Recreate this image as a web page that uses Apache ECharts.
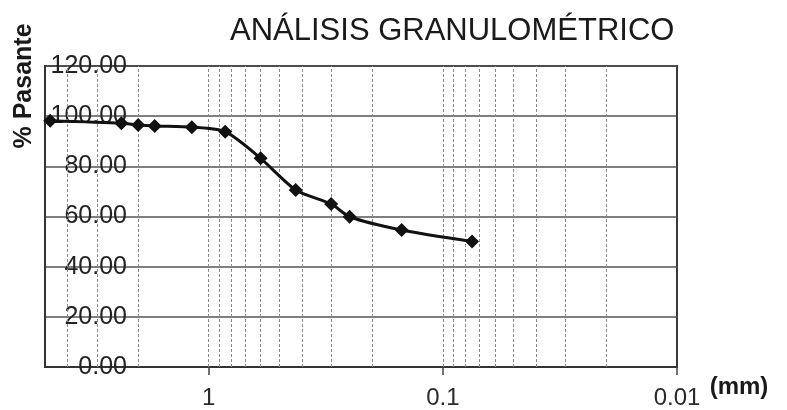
<!DOCTYPE html>
<html>
<head>
<meta charset="utf-8">
<script src="https://cdn.jsdelivr.net/npm/echarts@6/dist/echarts.min.js"></script>
<style>
  html, body { margin: 0; padding: 0; background: #fff; }
  #chart { width: 787px; height: 410px; }
</style>
</head>
<body>
<div id="chart"></div>
<script>
// Sieve opening (mm) and cumulative percent passing
const sieveSizes = [4.75, 2.36, 2.00, 1.70, 1.18, 0.85, 0.60, 0.425, 0.30, 0.25, 0.15, 0.075];
const percentPassing = [98.2, 97.2, 96.5, 96.1, 95.6, 93.8, 83.2, 70.6, 65.0, 59.9, 54.6, 50.0];

// Log-cycle grid positions (mm)
const logGridValues = [4, 3, 2, 1, 0.9, 0.8, 0.7, 0.6, 0.5, 0.4, 0.3, 0.2, 0.1,
  0.09, 0.08, 0.07, 0.06, 0.05, 0.04, 0.03, 0.02];
const xTickLabels = [1, 0.1, 0.01];

const chartTitle = 'ANÁLISIS GRANULOMÉTRICO';
const yTitle = '% Pasante';
const xUnit = '(mm)';

const FONT = '"Liberation Sans", Arial, sans-serif';
const chart = echarts.init(document.getElementById('chart'));

chart.setOption({
  backgroundColor: '#fff',
  animation: false,
  title: {
    text: chartTitle,
    left: 225,
    top: 11,
    textStyle: { fontFamily: FONT, fontSize: 31, fontWeight: 'normal', color: '#1a1a1a' }
  },
  grid: {
    left: 45, right: 110, top: 66, bottom: 43,
    show: true, borderColor: '#3a3a3a', borderWidth: 2, backgroundColor: 'transparent'
  },
  xAxis: {
    type: 'log',
    logBase: 10,
    min: 0.01,
    max: 5,
    inverse: true,
    interval: 1,
    axisLine: { show: true, lineStyle: { color: '#333', width: 2 } },
    axisTick: { show: true, length: 8, inside: false, lineStyle: { color: '#444', width: 1.5 } },
    splitLine: { show: false },
    axisLabel: {
      fontFamily: FONT, fontSize: 24, color: '#2a2a2a', margin: 19,
      showMaxLabel: false,
      formatter: function (v) {
        for (const t of xTickLabels) {
          if (Math.abs(v - t) / t < 1e-6) return String(t);
        }
        return '';
      }
    }
  },
  yAxis: {
    type: 'value',
    min: 0,
    max: 120,
    interval: 20,
    axisLine: { show: true, lineStyle: { color: '#333', width: 2 } },
    axisTick: { show: false },
    splitLine: { show: true, lineStyle: { color: '#555', width: 1.5 } },
    axisLabel: {
      fontFamily: FONT, fontSize: 25, color: '#222', margin: -82,
      formatter: function (v) { return v.toFixed(2); }
    }
  },
  graphic: [
    {
      type: 'text',
      x: 24, y: 86,
      rotation: Math.PI / 2,
      style: {
        text: yTitle, fontFamily: FONT, fontSize: 25, fontWeight: 'bold',
        fill: '#1a1a1a', align: 'center', verticalAlign: 'middle'
      }
    },
    {
      type: 'text',
      x: 739, y: 387,
      style: {
        text: xUnit, fontFamily: FONT, fontSize: 24, fontWeight: 'bold',
        fill: '#1a1a1a', align: 'center', verticalAlign: 'middle'
      }
    }
  ],
  series: [
    {
      type: 'line',
      data: sieveSizes.map((s, i) => [s, percentPassing[i]]),
      smooth: 0.25,
      symbol: 'diamond',
      symbolSize: 14,
      itemStyle: { color: '#111' },
      lineStyle: { color: '#111', width: 3 },
      z: 5,
      markLine: {
        silent: true,
        symbol: 'none',
        label: { show: false },
        lineStyle: { color: '#8a8a8a', width: 1, type: [3, 2] },
        data: logGridValues.map(v => ({ xAxis: v })),
        z: 1
      }
    }
  ]
});
</script>
</body>
</html>
